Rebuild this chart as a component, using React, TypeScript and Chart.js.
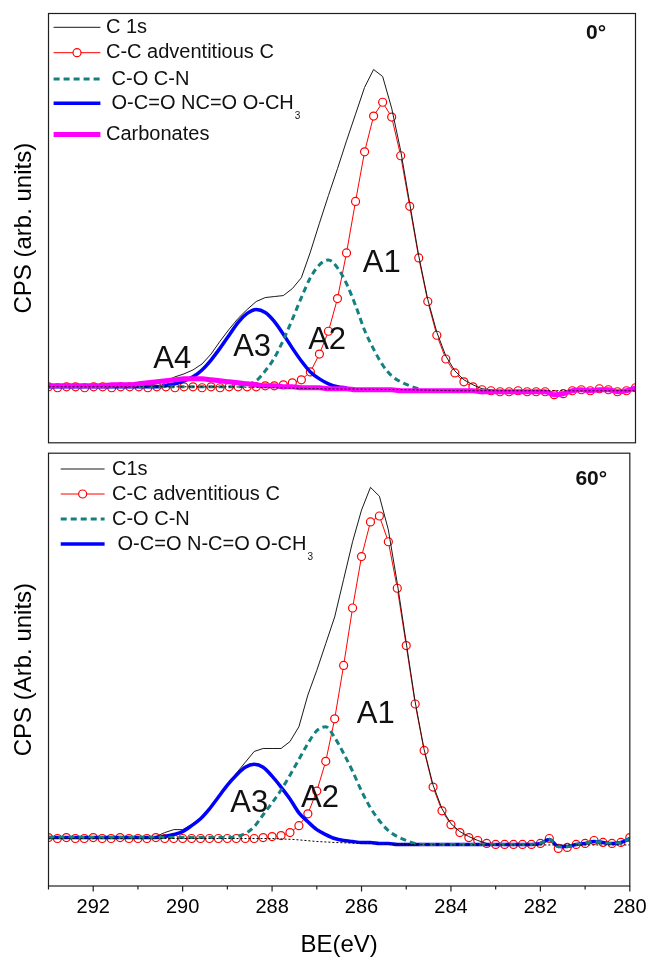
import { useEffect, useRef } from "react";
import { Chart, registerables } from "chart.js";
Chart.register(...registerables);

const FONT = '"Liberation Sans", Arial, sans-serif';

// Binding energy grid (eV)
const BE = [
  293.0, 292.8, 292.6, 292.4, 292.2, 292.0, 291.8, 291.6, 291.4, 291.2, 291.0,
  290.8, 290.6, 290.4, 290.2, 290.0, 289.8, 289.6, 289.4, 289.2, 289.0, 288.8,
  288.6, 288.4, 288.2, 288.0, 287.8, 287.6, 287.4, 287.2, 287.0, 286.8, 286.6,
  286.4, 286.2, 286.0, 285.8, 285.6, 285.4, 285.2, 285.0, 284.8, 284.6, 284.4,
  284.2, 284.0, 283.8, 283.6, 283.4, 283.2, 283.0, 282.8, 282.6, 282.4, 282.2,
  282.0, 281.8, 281.6, 281.4, 281.2, 281.0, 280.8, 280.6, 280.4, 280.2, 280.0,
];

const X_TICKS = [292, 290, 288, 286, 284, 282, 280];
const X_MINOR_TICKS = [293, 291, 289, 287, 285, 283, 281];

// ---- 0 deg panel ----
const TOP_C1S = [
  1, 0, 1, 0, 0, 1, 0, 0, 1, 0, 1, 2, 3,
  6, 10, 13, 17, 23, 33, 46, 58, 69, 78, 86, 90, 91,
  92, 99, 110, 136, 165, 193, 220, 248, 275, 302, 320, 313, 281,
  238, 185, 132, 88, 55, 31, 16, 7, 2, -2, -3, -4, -4,
  -4, -4, -4, -5, -8, -7, -3, -3, -3, -2, -4, -5, -4, 0,
];
const TOP_CC = [
  0, -1, 0, 0, -1, 0, 0, -1, 0, 0, 0, -1, 0,
  0, -1, 0, 0, -1, 0, -1, 0, 0, 0, 0, 1, 1,
  2, 4, 7, 15, 33, 56, 89, 135, 187, 237, 273, 287, 272,
  233, 182, 130, 86, 52, 28, 14, 5, 0, -3, -4, -5, -5,
  -4, -5, -5, -5, -8, -7, -4, -3, -4, -2, -3, -5, -4, -1,
];
const TOP_CO = [
  0, 0, 0, 0, 0, 0, 0, 0, 0, 0, 0, 0, 0, 0, 0, 0, 0, 0, 0, 0, 0, 0,
  2, 6, 16, 29, 47, 68, 90, 110, 123, 128, 120, 104, 82, 57, 38, 22, 11, 5, 1, -2,
];
const TOP_OCO = [
  0, 0, 0, 0, 0, 0, 0, 0, 0, 0, 0, 0, 0,
  1, 3, 6, 10, 17, 27, 39, 52, 65, 74, 78, 75, 66, 53, 39, 26, 15, 8, 3, 0, -1,
];
const TOP_CARB = [
  1, 1, 1, 1, 1, 1, 1, 2, 2, 2,
  3, 4, 5, 6, 7, 8, 8, 8, 7, 6, 5, 4, 3,
  2, 1, 1, 0, 0, -1, -1, -1, -2, -2, -2, -3, -3,
  -3, -3, -3, -4, -4, -4, -4, -4, -4, -4, -4, -4, -5,
  -5, -5, -5, -5, -5, -5, -5, -8, -7, -4, -3, -4, -3, -3, -5, -4, -1,
];
const TOP_BG_X = [293, 289, 288, 287, 285, 284, 280];
const TOP_BG_Y = [0, 0, -1, -2, -3, -4, -4];

// ---- 60 deg panel ----
const BOT_C1S = [
  1, 0, 1, 0, 0, 1, 0, 0, 1, 1, 0, 1, 2,
  6, 9, 9, 14, 21, 31, 43, 55, 66, 77, 88, 91, 91,
  91, 98, 113, 145, 170, 197, 224, 262, 300, 332, 355, 346, 312,
  258, 198, 138, 90, 54, 30, 15, 7, 2, -2, -5, -6, -6,
  -6, -6, -6, -5, 0, -9, -8, -6, -5, -2, -4, -5, -4, 1,
];
const BOT_CC = [
  1, 0, 1, 0, 0, 1, 0, 0, 1, 0, 0, 0, 1,
  0, 0, 0, 0, 0, 0, 0, 0, 0, 0, 0, 1, 2,
  3, 6, 13, 25, 48, 78, 121, 175, 233, 285, 320, 326, 300,
  253, 195, 136, 89, 52, 28, 14, 6, 1, -2, -5, -6, -6,
  -6, -6, -6, -5, 0, -10, -9, -6, -5, -2, -4, -5, -4, 1,
];
const BOT_CO = [
  1, 1, 1, 1, 1, 1, 1, 1, 1, 1, 1, 1, 1, 1, 1, 1, 1, 1, 1, 1, 1, 2,
  5, 12, 24, 36, 49, 64, 80, 96, 109, 113, 102, 86, 68,
  48, 31, 18, 8, 2, -2, -5, -6, -6, -6, -6, -6, -6,
  -6, -6, -6, -6, -6, -6, -6, -5, -1, -8, -8, -6, -5, -3, -4, -5, -4, 0,
];
const BOT_OCO = [
  1, 1, 1, 1, 1, 1, 1, 1, 1, 1, 1, 1,
  1, 2, 4, 7, 13, 20, 30, 42, 54, 64, 72, 75, 72,
  63, 52, 40, 26, 17, 9, 4, 0, -2, -3, -4, -4, -5,
  -5, -6, -6, -6, -6, -6, -6, -6, -6, -6, -6, -6, -6,
  -6, -6, -6, -6, -5, -1, -8, -8, -6, -5, -3, -4, -5, -4, 0,
];
const BOT_BG_X = [293, 288, 287.5, 287, 286.6, 286, 285, 284, 280];
const BOT_BG_Y = [0, 0, -1, -3, -4, -5, -6, -6.5, -6.5];

const TOP_PEAKS = ["A1", "A2", "A3", "A4"];
const TOP_PEAK_BE = [285.62, 286.83, 288.49, 290.26];
const TOP_PEAK_CPS = [124, 47, 39.5, 28];
const BOT_PEAKS = ["A1", "A2", "A3"];
const BOT_PEAK_BE = [285.68, 286.93, 288.51];
const BOT_PEAK_CPS = [125.5, 40, 35.5];

const pts = (ys: number[]) => ys.map((y, i) => ({ x: BE[i], y }));
const ptsXY = (xs: number[], ys: number[]) => xs.map((x, i) => ({ x, y: ys[i] }));

const decor = {
  id: "decor",
  afterDatasetsDraw(chart: any, _a: any, o: any) {
    const { ctx, chartArea: a } = chart;
    const xs = chart.scales.x;
    const ys = chart.scales.y;
    ctx.save();
    ctx.setLineDash([]);
    ctx.strokeStyle = "#1e1e1e";
    ctx.lineWidth = 1.2;
    ctx.strokeRect(a.left, a.top, a.right - a.left, a.bottom - a.top);
    if (o.axisTicks) {
      const draw = (v: number, len: number) => {
        const px = xs.getPixelForValue(v);
        ctx.beginPath();
        ctx.moveTo(px, a.bottom);
        ctx.lineTo(px, a.bottom + len);
        ctx.stroke();
      };
      X_TICKS.forEach((v) => draw(v, 5.5));
      X_MINOR_TICKS.forEach((v) => draw(v, 3.5));
    }
    // legend
    let row = 0;
    const L = o.legend;
    chart.data.datasets.forEach((ds: any) => {
      if (!ds.label) return;
      const y = L.rows[row++];
      const [x1, x2] = L.line;
      ctx.save();
      ctx.strokeStyle = ds.borderColor;
      ctx.lineWidth = ds.borderWidth;
      ctx.setLineDash(ds.borderDash || []);
      ctx.beginPath();
      ctx.moveTo(x1, y);
      ctx.lineTo(x2, y);
      ctx.stroke();
      if (ds.pointRadius > 0) {
        ctx.setLineDash([]);
        ctx.beginPath();
        ctx.arc((x1 + x2) / 2, y, ds.pointRadius, 0, Math.PI * 2);
        ctx.fillStyle = ds.pointBackgroundColor;
        ctx.fill();
        ctx.lineWidth = ds.pointBorderWidth;
        ctx.strokeStyle = ds.pointBorderColor;
        ctx.stroke();
      }
      ctx.restore();
      ctx.fillStyle = "#111";
      ctx.font = `20px ${FONT}`;
      ctx.textAlign = "left";
      ctx.textBaseline = "middle";
      ctx.fillText(ds.label, L.textX, y);
      if (ds.labelSub) {
        const w = ctx.measureText(ds.label).width;
        ctx.font = `10px ${FONT}`;
        ctx.fillText(ds.labelSub, L.textX + w + 1, y + 13);
      }
    });
    // peak labels
    ctx.fillStyle = "#111";
    ctx.font = `31px ${FONT}`;
    ctx.textAlign = "center";
    ctx.textBaseline = "middle";
    o.peaks.names.forEach((n: string, i: number) => {
      ctx.fillText(n, xs.getPixelForValue(o.peaks.be[i]), ys.getPixelForValue(o.peaks.cps[i]));
    });
    // panel tag
    ctx.font = `bold 21px ${FONT}`;
    ctx.fillText(o.tag.text, a.right - o.tag.dx, a.top + o.tag.dy);
    ctx.restore();
  },
};

function makeDatasets(panel: "top" | "bot") {
  const isTop = panel === "top";
  const ds: any[] = [
    {
      label: isTop ? "C 1s" : "C1s",
      data: pts(isTop ? TOP_C1S : BOT_C1S),
      borderColor: "#1a1a1a",
      borderWidth: 1,
      pointRadius: 0,
      order: 4,
    },
    {
      label: "C-C adventitious C",
      data: pts(isTop ? TOP_CC : BOT_CC),
      borderColor: "#ff0000",
      borderWidth: 1,
      pointRadius: 4,
      pointStyle: "circle",
      pointBackgroundColor: "#ffffff",
      pointBorderColor: "#ff0000",
      pointBorderWidth: 1.2,
      order: 5,
    },
    {
      label: isTop ? " C-O C-N" : "C-O C-N",
      data: pts(isTop ? TOP_CO : BOT_CO),
      borderColor: "#148080",
      borderWidth: 3,
      borderDash: [6, 4],
      pointRadius: 0,
      cubicInterpolationMode: "monotone",
      order: 2,
    },
    {
      label: isTop ? " O-C=O NC=O O-CH" : " O-C=O N-C=O O-CH",
      labelSub: "3",
      data: pts(isTop ? TOP_OCO : BOT_OCO),
      borderColor: "#0000ff",
      borderWidth: 3.5,
      pointRadius: 0,
      cubicInterpolationMode: "monotone",
      order: 3,
    },
  ];
  if (isTop) {
    ds.push({
      label: "Carbonates",
      data: pts(TOP_CARB),
      borderColor: "#ff00ff",
      borderWidth: 5,
      pointRadius: 0,
      cubicInterpolationMode: "monotone",
      order: 1,
    });
  }
  ds.push({
    label: "",
    data: isTop ? ptsXY(TOP_BG_X, TOP_BG_Y) : ptsXY(BOT_BG_X, BOT_BG_Y),
    borderColor: "#000000",
    borderWidth: 1,
    borderDash: [2, 2],
    pointRadius: 0,
    order: 0,
  });
  return ds;
}

function yAxis(title: string, min: number, max: number) {
  return {
    type: "linear",
    min,
    max,
    bounds: "data",
    ticks: { display: false },
    grid: { display: false, drawTicks: false },
    border: { display: false },
    title: {
      display: true,
      text: title,
      color: "#000",
      font: { size: 24, family: FONT, lineHeight: 1 },
      padding: { top: 12, bottom: 0 },
    },
    afterFit: (s: any) => {
      s.width = 48.5;
    },
  };
}

export default function App() {
  const topRef = useRef<HTMLCanvasElement>(null);
  const botRef = useRef<HTMLCanvasElement>(null);

  useEffect(() => {
    const common = {
      animation: false,
      responsive: false,
      devicePixelRatio: 1,
      events: [],
    };
    const top = new Chart(topRef.current as HTMLCanvasElement, {
      type: "line",
      data: { datasets: makeDatasets("top") },
      options: {
        ...common,
        layout: { padding: { top: 13.5, right: 20.5, bottom: 1.5, left: 0 } },
        plugins: {
          legend: { display: false },
          tooltip: { enabled: false },
          decor: {
            legend: { rows: [27.3, 52.7, 79, 103.3, 134.5], line: [53.6, 100.4], textX: 106 },
            peaks: { names: TOP_PEAKS, be: TOP_PEAK_BE, cps: TOP_PEAK_CPS },
            tag: { text: "0°", dx: 39.5, dy: 20 },
          },
        },
        scales: {
          x: { type: "linear", display: false, min: 280, max: 293, reverse: true, bounds: "data" },
          y: yAxis("CPS (arb. units)", -56.5, 376.5),
        },
      } as any,
      plugins: [decor as any],
    });
    const bot = new Chart(botRef.current as HTMLCanvasElement, {
      type: "line",
      data: { datasets: makeDatasets("bot") },
      options: {
        ...common,
        layout: { padding: { top: 0.5, right: 20.5, bottom: 0, left: 0 } },
        plugins: {
          legend: { display: false },
          tooltip: { enabled: false },
          decor: {
            axisTicks: true,
            legend: { rows: [21, 46, 71, 96], line: [60.7, 104.6], textX: 112 },
            peaks: { names: BOT_PEAKS, be: BOT_PEAK_BE, cps: BOT_PEAK_CPS },
            tag: { text: "60°", dx: 38.5, dy: 26.5 },
          },
        },
        scales: {
          x: {
            type: "linear",
            min: 280,
            max: 293,
            reverse: true,
            bounds: "data",
            afterBuildTicks: (s: any) => {
              s.ticks = X_TICKS.map((v) => ({ value: v }));
            },
            ticks: {
              autoSkip: false,
              maxRotation: 0,
              color: "#000",
              padding: 9.5,
              font: { size: 20, family: FONT, lineHeight: 1.2 },
            },
            grid: { display: false, drawTicks: false },
            border: { display: false },
            title: {
              display: true,
              text: "BE(eV)",
              color: "#000",
              font: { size: 24, family: FONT, lineHeight: 1 },
              padding: { top: 0, bottom: 0.5 },
            },
            afterFit: (s: any) => {
              s.height = 72;
            },
          },
          y: yAxis("CPS (Arb. units)", -48, 389.5),
        },
      } as any,
      plugins: [decor as any],
    });
    return () => {
      top.destroy();
      bot.destroy();
    };
  }, []);

  return (
    <div style={{ position: "absolute", left: 0, top: 0, width: 656, height: 958, background: "#fff" }}>
      <canvas ref={topRef} width={656} height={448} style={{ position: "absolute", left: 0, top: 0 }} />
      <canvas ref={botRef} width={656} height={510} style={{ position: "absolute", left: 0, top: 448 }} />
    </div>
  );
}
